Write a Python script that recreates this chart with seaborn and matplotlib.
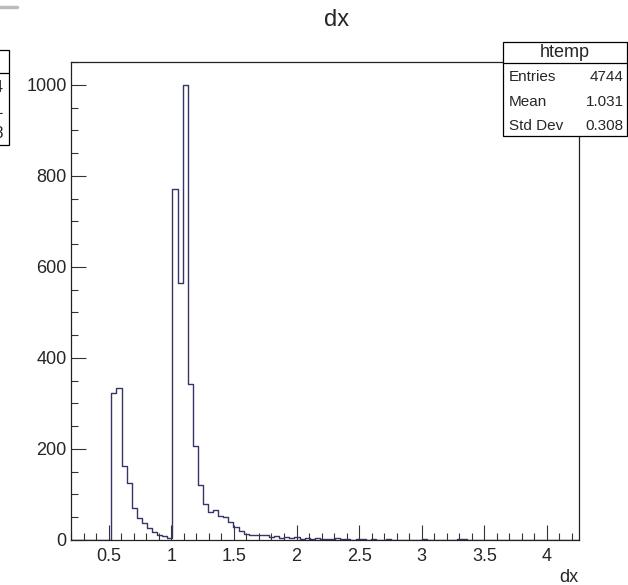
import numpy as np
import pandas as pd
import seaborn as sns
import matplotlib.pyplot as plt
from matplotlib.ticker import MultipleLocator
from matplotlib.patches import Rectangle
from matplotlib.lines import Line2D

# 100 bins
counts = [0, 0, 0, 0, 0, 0, 0, 0,
          322, 333, 162, 126, 70, 48, 37, 26, 17, 12, 8, 5,
          772, 564, 1000, 342,
          206, 121, 80, 61, 66, 52, 50, 39, 29, 20, 13, 12,
          12, 10, 11, 7, 9, 5, 6, 4, 6, 3,
          4, 2, 5, 3, 3, 2, 4, 2, 3, 1, 3, 2, 1, 2, 1,
          0, 2, 0, 1, 1, 0, 0, 1, 2, 1, 0, 1, 1, 0, 1, 2, 2, 1, 0,
          0, 0, 0, 0, 0, 0, 0, 0, 0, 0, 0, 1, 0, 0, 0, 0, 0, 0, 0, 0]
x_low, x_high = 0.196, 4.259
stat_names = ["Entries", "Mean", "Std Dev"]
stat_values = ["4744", "1.031", "0.308"]

edges = np.linspace(x_low, x_high, len(counts) + 1)
centers = (edges[:-1] + edges[1:]) / 2
df = pd.DataFrame({"dx": centers, "n": counts})

sns.set_style("ticks")
plt.rcParams['font.family'] = ['Liberation Sans', 'DejaVu Sans']

W, H = 628, 585
fig = plt.figure(figsize=(W / 100, H / 100), dpi=100)


def fx(px):
    return px / W


def fy(py):
    return 1 - py / H


ax = fig.add_axes([fx(70.7), fy(540), fx(579.3) - fx(70.7), fy(62) - fy(540)])
sns.histplot(data=df, x="dx", weights="n", bins=len(counts), binrange=(x_low, x_high),
             element="step", fill=False, color="#35356a", linewidth=1.0, ax=ax)

ax.set_xlim(x_low, x_high)
ax.set_ylim(0, 1050)
ax.set_xlabel("")
ax.set_ylabel("")
ax.xaxis.set_major_locator(MultipleLocator(0.5))
ax.xaxis.set_minor_locator(MultipleLocator(0.1))
ax.yaxis.set_major_locator(MultipleLocator(200))
ax.yaxis.set_minor_locator(MultipleLocator(50))
ax.xaxis.set_major_formatter(lambda v, p: f"{v:g}")
ax.tick_params(which="major", direction="in", length=10.5, width=0.8, labelsize=13, color="#333333")
ax.tick_params(which="minor", direction="in", length=5, width=0.8, color="#333333")
ax.tick_params(axis="x", pad=6)
ax.tick_params(axis="y", pad=3)
for s in ax.spines.values():
    s.set_linewidth(0.9)
    s.set_color("#222222")

fig.text(fx(337), fy(20), "dx", ha="center", va="center", fontsize=17)
fig.text(fx(578), fy(577), "dx", ha="right", va="center", fontsize=13)

# stats box
bx0, bx1, by0, by1, hline = 502.7, 626.5, 42, 136, 62.7
fig.add_artist(Rectangle((fx(bx0), fy(by1)), fx(bx1) - fx(bx0), fy(by0) - fy(by1),
                         transform=fig.transFigure, facecolor="white", edgecolor="black", linewidth=0.9))
fig.add_artist(Line2D([fx(bx0), fx(bx1)], [fy(hline), fy(hline)], transform=fig.transFigure,
                      color="black", linewidth=0.9))
fig.text(fx((bx0 + bx1) / 2), fy(52.5), "htemp", ha="center", va="center", fontsize=13)
for i, (name, val) in enumerate(zip(stat_names, stat_values)):
    yy = fy(77 + i * 24.5)
    fig.text(fx(509), yy, name, ha="left", va="center", fontsize=11)
    fig.text(fx(624), yy, val, ha="right", va="center", fontsize=11)

# cut-off box of a neighbouring pad at the left edge
fig.add_artist(Rectangle((fx(-10), fy(145)), fx(9.3) - fx(-10), fy(50) - fy(145),
                         transform=fig.transFigure, facecolor="white", edgecolor="black", linewidth=0.9))
fig.add_artist(Line2D([fx(-10), fx(9.3)], [fy(72.7), fy(72.7)], transform=fig.transFigure,
                      color="black", linewidth=0.9))
for i, val in enumerate(stat_values):
    fig.text(fx(4), fy(87 + i * 23), val, ha="right", va="center", fontsize=12)
fig.add_artist(Line2D([0, fx(17)], [fy(6.7), fy(6.7)], transform=fig.transFigure,
                      color="#bbbbbb", linewidth=2.5))

fig.savefig("out.png", dpi=100)
